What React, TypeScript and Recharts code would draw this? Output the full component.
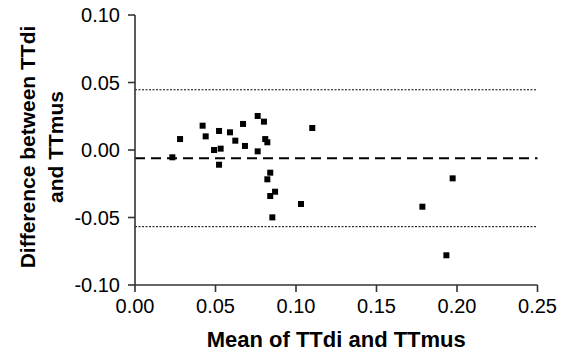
import React from 'react';
import { ScatterChart, Scatter, XAxis, YAxis, ReferenceLine } from 'recharts';

const meanValues = [0.0232, 0.028, 0.042, 0.0439, 0.0522, 0.0491, 0.0532, 0.0522, 0.059, 0.0623, 0.0671, 0.0683, 0.0762, 0.0801, 0.0762, 0.0809, 0.0822, 0.084, 0.0822, 0.087, 0.084, 0.0853, 0.1031, 0.1101, 0.1973, 0.1785, 0.1934];
const diffValues = [-0.0054, 0.0081, 0.018, 0.0101, 0.0141, 0.0, 0.001, -0.0109, 0.0131, 0.0069, 0.0193, 0.003, 0.0252, 0.021, -0.001, 0.0081, 0.0057, -0.0168, -0.0217, -0.0309, -0.0341, -0.0499, -0.04, 0.0163, -0.021, -0.042, -0.078];
const xTicks = [0, 0.05, 0.1, 0.15, 0.2, 0.25];
const yTicks = [-0.1, -0.05, 0, 0.05, 0.1];
const meanBias = -0.0061;
const upperLimit = 0.0446;
const lowerLimit = -0.0568;

const data = meanValues.map((m, i) => ({ x: m, y: diffValues[i] }));

const axisColor = '#333';
const font = 'Arial, "Liberation Sans", sans-serif';

const Square = (props: any) => {
  const { cx, cy } = props;
  if (cx == null || cy == null) return null;
  return <rect x={cx - 3} y={cy - 3} width={6} height={6} fill="#000" />;
};

const XLabel = (props: any) => {
  const vb = props.viewBox || {};
  const cx = vb.x + vb.width / 2;
  return (
    <text x={cx} y={347} textAnchor="middle" fontFamily={font} fontWeight="bold" fontSize={22} fill="#000">
      Mean of TTdi and TTmus
    </text>
  );
};

const YLabel = (props: any) => {
  const vb = props.viewBox || {};
  const cy = vb.y + vb.height / 2 - 3;
  return (
    <g>
      <text transform={`translate(35,${cy}) rotate(-90)`} textAnchor="middle" fontFamily={font} fontWeight="bold" fontSize={21} fill="#000">
        Difference between TTdi
      </text>
      <text transform={`translate(63,${cy}) rotate(-90)`} textAnchor="middle" fontFamily={font} fontWeight="bold" fontSize={21} fill="#000">
        and TTmus
      </text>
    </g>
  );
};

export default function App() {
  return (
    <div style={{ position: 'absolute', left: 0, top: 0, width: 564, height: 352, background: '#fff' }}>
      <ScatterChart width={564} height={352} margin={{ top: 15, right: 26.5, bottom: 0, left: 0 }}>
        <XAxis
          type="number"
          dataKey="x"
          domain={[0, 0.25]}
          ticks={xTicks}
          tickFormatter={(v: number) => v.toFixed(2)}
          height={67}
          tickSize={7}
          tickMargin={7}
          axisLine={{ stroke: axisColor, strokeWidth: 1.6 }}
          tickLine={{ stroke: axisColor, strokeWidth: 1.6 }}
          tick={{ fill: '#000', fontSize: 20, fontFamily: font }}
          label={<XLabel />}
          allowDataOverflow
        />
        <YAxis
          type="number"
          dataKey="y"
          domain={[-0.1, 0.1]}
          ticks={yTicks}
          tickFormatter={(v: number) => v.toFixed(2)}
          width={135}
          tickSize={7}
          tickMargin={8}
          axisLine={{ stroke: axisColor, strokeWidth: 1.6 }}
          tickLine={{ stroke: axisColor, strokeWidth: 1.6 }}
          tick={{ fill: '#000', fontSize: 20, fontFamily: font }}
          label={<YLabel />}
          allowDataOverflow
        />
        <ReferenceLine y={upperLimit} stroke="#000" strokeWidth={1} strokeDasharray="2 1.5" />
        <ReferenceLine y={meanBias} stroke="#000" strokeWidth={2} strokeDasharray="10 6" />
        <ReferenceLine y={lowerLimit} stroke="#000" strokeWidth={1} strokeDasharray="2 1.5" />
        <Scatter data={data} shape={<Square />} isAnimationActive={false} />
      </ScatterChart>
    </div>
  );
}
